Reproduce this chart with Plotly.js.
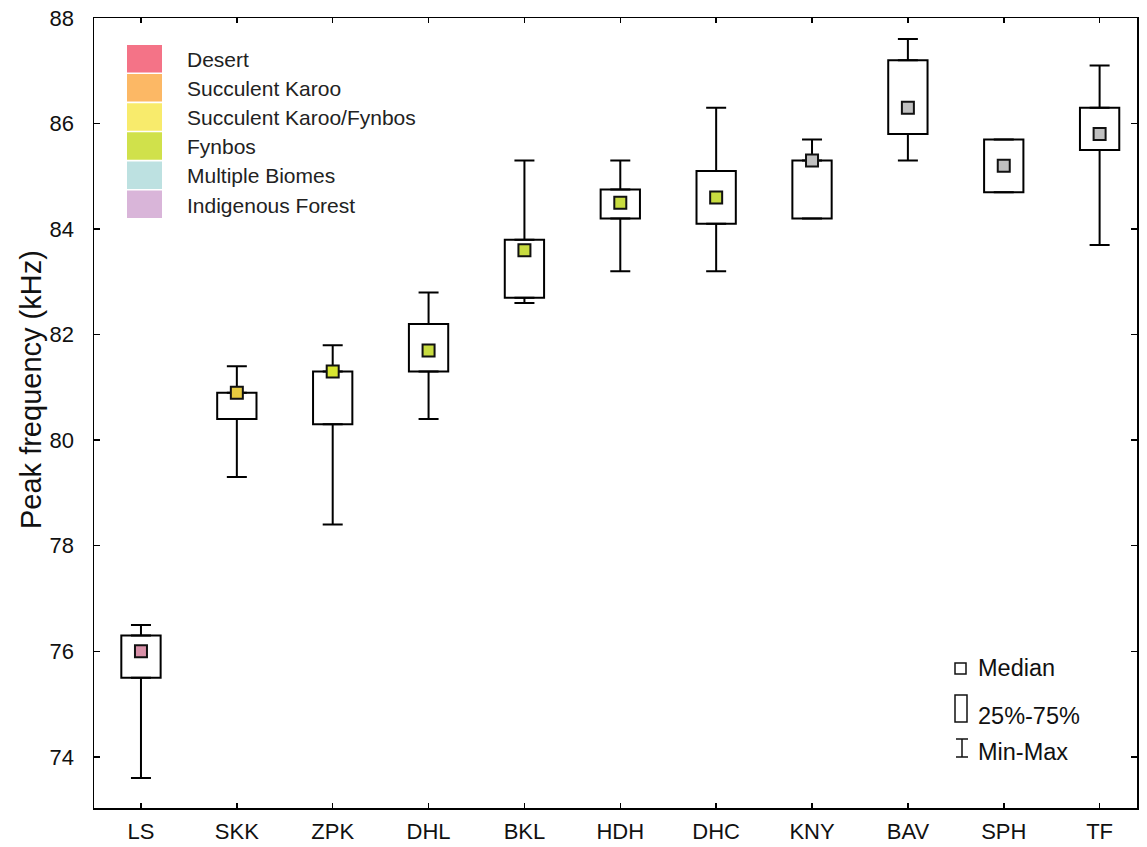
<!DOCTYPE html>
<html>
<head>
<meta charset="utf-8">
<script src="https://cdn.plot.ly/plotly-3.0.1.min.js"></script>
<style>
html,body{margin:0;padding:0;background:#fff;}
#chart{width:1147px;height:847px;}
</style>
</head>
<body>
<div id="chart"></div>
<script>
// ---- data ----
const sites   = ['LS','SKK','ZPK','DHL','BKL','HDH','DHC','KNY','BAV','SPH','TF'];
const minVals = [73.6, 79.3, 78.4, 80.4, 82.6, 83.2, 83.2, 84.2, 85.3, 84.7, 83.7];
const q1Vals  = [75.5, 80.4, 80.3, 81.3, 82.7, 84.2, 84.1, 84.2, 85.8, 84.7, 85.5];
const medVals = [76.0, 80.9, 81.3, 81.7, 83.6, 84.5, 84.6, 85.3, 86.3, 85.2, 85.8];
const q3Vals  = [76.3, 80.9, 81.3, 82.2, 83.8, 84.75, 85.1, 85.3, 87.2, 85.7, 86.3];
const maxVals = [76.5, 81.4, 81.8, 82.8, 85.3, 85.3, 86.3, 85.7, 87.6, 85.7, 87.1];
const medColors = ['#d890a8','#e8cc40','#d8e630','#c8dc40','#c8dc40','#c8dc40','#c8dc40',
                   '#c0c0c0','#c0c0c0','#c0c0c0','#c0c0c0'];

const biomeNames  = ['Desert','Succulent Karoo','Succulent Karoo/Fynbos','Fynbos','Multiple Biomes','Indigenous Forest'];
const biomeColors = ['#f25a72','#fbab4a','#f7e852','#c8dc2c','#b2dcdc','#d2a8d2'];

const keyLabels = ['Median','25%-75%','Min-Max'];
const yTitle = 'Peak frequency (kHz)';

// ---- layout helpers (pixel -> paper) ----
const ML = 94, MR = 10, MT = 18, MB = 39, W = 1147, H = 847;
const PW = W - ML - MR, PH = H - MT - MB;
const px = x => (x - ML) / PW;
const py = y => (H - MB - y) / PH;
const FONT = 'Liberation Sans, Arial, sans-serif';

const traces = [];
// boxes (25%-75%)
traces.push({
  type: 'bar', x: sites, base: q1Vals,
  y: q3Vals.map((v, i) => v - q1Vals[i]),
  width: 0.41,
  marker: {color: '#ffffff', line: {color: '#000', width: 2}},
  showlegend: false, hoverinfo: 'skip'
});
// upper whiskers
traces.push({
  type: 'scatter', mode: 'markers', x: sites, y: q3Vals,
  marker: {size: 1, color: 'rgba(0,0,0,0)'},
  error_y: {type: 'data', symmetric: false,
            array: maxVals.map((v, i) => v - q3Vals[i]),
            arrayminus: sites.map(() => 0),
            color: '#000', thickness: 2, width: 10},
  showlegend: false, hoverinfo: 'skip'
});
// lower whiskers
traces.push({
  type: 'scatter', mode: 'markers', x: sites, y: q1Vals,
  marker: {size: 1, color: 'rgba(0,0,0,0)'},
  error_y: {type: 'data', symmetric: false,
            array: sites.map(() => 0),
            arrayminus: q1Vals.map((v, i) => v - minVals[i]),
            color: '#000', thickness: 2, width: 10},
  showlegend: false, hoverinfo: 'skip'
});
// medians
traces.push({
  type: 'scatter', mode: 'markers', x: sites, y: medVals,
  marker: {symbol: 'square', size: 12, color: medColors, line: {color: '#111', width: 2}},
  showlegend: false, hoverinfo: 'skip'
});

const shapes = [];
const annotations = [];

// biome legend (top-left)
biomeNames.forEach((name, i) => {
  const top = 45 + i * 29.1, bot = top + 27.5;
  shapes.push({type: 'rect', xref: 'paper', yref: 'paper',
    x0: px(127), x1: px(162), y0: py(bot), y1: py(top),
    fillcolor: biomeColors[i], opacity: 0.85, line: {width: 0}});
  annotations.push({xref: 'paper', yref: 'paper', x: px(185), y: py(top + 14.5),
    xanchor: 'left', yanchor: 'middle', showarrow: false, text: name,
    font: {family: FONT, size: 21, color: '#222'}});
});

// key legend (bottom-right)
shapes.push({type: 'rect', xref: 'paper', yref: 'paper',
  x0: px(955), x1: px(966), y0: py(674), y1: py(663), line: {color: '#111', width: 1.5}, fillcolor: '#fff'});
shapes.push({type: 'rect', xref: 'paper', yref: 'paper',
  x0: px(955), x1: px(967), y0: py(722), y1: py(695), line: {color: '#111', width: 1.5}, fillcolor: '#fff'});
shapes.push({type: 'line', xref: 'paper', yref: 'paper',
  x0: px(962), x1: px(962), y0: py(757), y1: py(739), line: {color: '#111', width: 1.5}});
shapes.push({type: 'line', xref: 'paper', yref: 'paper',
  x0: px(956), x1: px(968), y0: py(739), y1: py(739), line: {color: '#111', width: 1.5}});
shapes.push({type: 'line', xref: 'paper', yref: 'paper',
  x0: px(956), x1: px(968), y0: py(757), y1: py(757), line: {color: '#111', width: 1.5}});
const keyY = [668, 716, 752];
keyLabels.forEach((t, i) => {
  annotations.push({xref: 'paper', yref: 'paper', x: px(976), y: py(keyY[i]),
    xanchor: 'left', yanchor: 'middle', showarrow: false, text: t,
    font: {family: FONT, size: 23.5, color: '#111'}});
});

// y-axis title placed as rotated text
annotations.push({xref: 'paper', yref: 'paper', x: px(31), y: py(390),
  xanchor: 'center', yanchor: 'middle', showarrow: false, textangle: -90,
  text: yTitle, font: {family: FONT, size: 29, color: '#111'}});

const layout = {
  width: W, height: H,
  margin: {l: ML, r: MR, t: MT, b: MB},
  paper_bgcolor: '#fff', plot_bgcolor: '#fff',
  showlegend: false, hovermode: false,
  font: {family: FONT, color: '#222'},
  xaxis: {
    type: 'category', range: [-0.49, 10.39],
    showline: true, linecolor: '#000', linewidth: 1.5, mirror: 'ticks',
    ticks: 'inside', ticklen: 5, tickcolor: '#000', tickwidth: 1.5,
    showgrid: false, zeroline: false,
    tickfont: {size: 22, color: '#111'},
    ticklabelstandoff: 3
  },
  yaxis: {
    range: [73.03, 88], tickvals: [74, 76, 78, 80, 82, 84, 86, 88],
    showline: true, linecolor: '#000', linewidth: 1.5, mirror: 'ticks',
    ticks: 'inside', ticklen: 6, tickcolor: '#000', tickwidth: 1.5,
    showgrid: false, zeroline: false,
    tickfont: {size: 22, color: '#111'},
    ticklabelstandoff: 14
  },
  shapes: shapes,
  annotations: annotations
};

Plotly.newPlot('chart', traces, layout, {displayModeBar: false, staticPlot: true});
</script>
</body>
</html>
